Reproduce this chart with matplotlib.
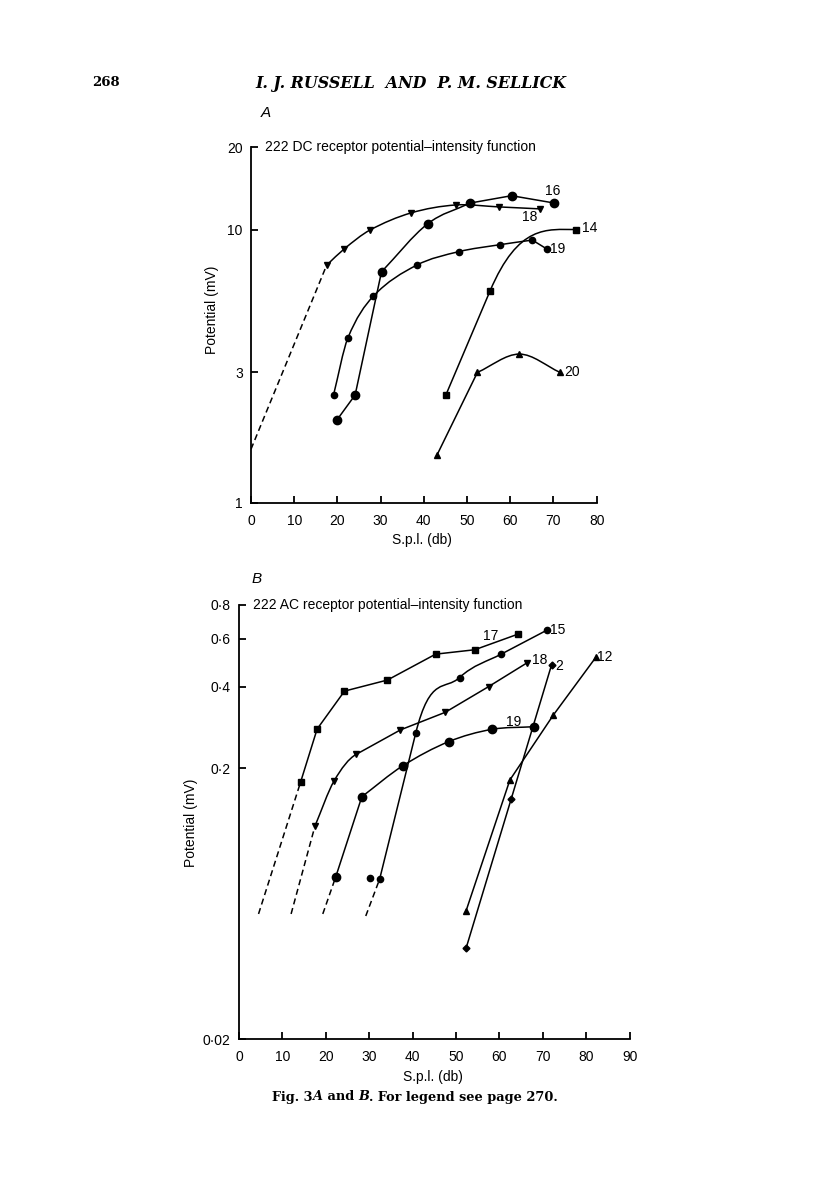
import numpy as np
import matplotlib
matplotlib.use("Agg")
import matplotlib.pyplot as plt
from matplotlib.path import Path
from matplotlib.patches import PathPatch
from matplotlib.ticker import NullLocator

plt.rcParams['font.family'] = ['Liberation Sans', 'DejaVu Sans']

# ===== data: panel A (DC) =====
a_x18 = [17.5, 21.6, 27.5, 37.0, 47.4, 57.4, 66.9]
a_y18 = [7.4, 8.5, 9.95, 11.5, 12.3, 12.1, 11.9]
a_dash18_x = [0.0, 17.5]
a_dash18_y = [1.57, 7.4]
a_x16 = [19.8, 24.1, 30.2, 40.9, 50.7, 60.3, 70.2]
a_y16 = [2.0, 2.48, 7.0, 10.5, 12.5, 13.3, 12.5]
a_x19 = [19.1, 22.4, 28.3, 38.3, 48.1, 57.6, 65.1, 68.4]
a_y19 = [2.48, 4.0, 5.7, 7.4, 8.3, 8.8, 9.15, 8.5]
a_x14 = [45.1, 55.3, 75.1]
a_y14 = [2.48, 5.95, 10.0]
a_x20 = [43.0, 52.4, 62.1, 71.5]
a_y20 = [1.49, 3.0, 3.5, 3.0]

a_xticks = [0, 10, 20, 30, 40, 50, 60, 70, 80]
a_yticks = [1, 3, 10, 20]
a_ylabels = ['1', '3', '10', '20']

# ===== data: panel B (AC) =====
b_x17 = [14.2, 18.0, 24.3, 34.2, 45.3, 54.3, 64.2]
b_y17 = [0.178, 0.279, 0.385, 0.423, 0.527, 0.547, 0.624]
b_x18 = [17.5, 21.9, 27.0, 37.2, 47.5, 57.5, 66.4]
b_y18 = [0.1224, 0.1795, 0.225, 0.277, 0.3215, 0.400, 0.490]
b_x19 = [22.3, 28.3, 37.7, 48.3, 58.3, 67.9]
b_y19 = [0.0796, 0.157, 0.204, 0.2506, 0.2783, 0.2845]
b_x15 = [32.4, 40.7, 50.8, 60.4, 71.0]
b_y15 = [0.078, 0.269, 0.432, 0.527, 0.647]
b_x15_extra = [30.2]
b_y15_extra = [0.079]
b_x2 = [52.3, 62.7, 72.0]
b_y2 = [0.0433, 0.154, 0.481]
b_x12 = [52.3, 62.4, 72.4, 82.2]
b_y12 = [0.0595, 0.181, 0.314, 0.513]
# dashed extrapolations (start x, start y) -> first point of the series
b_dash_x = [[4.5, 14.2], [12.0, 17.5], [19.3, 22.3], [29.2, 32.4]]
b_dash_y = [[0.058, 0.178], [0.058, 0.1224], [0.058, 0.0796], [0.057, 0.078]]

b_xticks = [0, 10, 20, 30, 40, 50, 60, 70, 80, 90]
b_yticks = [0.02, 0.2, 0.4, 0.6, 0.8]
b_ylabels = ['0·02', '0·2', '0·4', '0·6', '0·8']

LW = 1.1
FS = 10


def chord(xs, ys, i, j):
    return (np.log10(ys[j]) - np.log10(ys[i])) / (xs[j] - xs[i])


def curve(ax, xs, ys, start=None, end=None, ls='-'):
    # smooth curve through points, hermite in (x, log y), drawn as bezier
    X = np.asarray(xs, float)
    Y = np.log10(np.asarray(ys, float))
    n = len(X)
    s = np.zeros(n)
    for i in range(n):
        if i == 0:
            s[i] = (Y[1] - Y[0]) / (X[1] - X[0])
        elif i == n - 1:
            s[i] = (Y[i] - Y[i - 1]) / (X[i] - X[i - 1])
        else:
            s[i] = (Y[i + 1] - Y[i - 1]) / (X[i + 1] - X[i - 1])
    if start is not None:
        s[0] = start
    if end is not None:
        s[-1] = end
    verts = [(X[0], 10 ** Y[0])]
    codes = [Path.MOVETO]
    for i in range(n - 1):
        h = X[i + 1] - X[i]
        verts += [(X[i] + h / 3, 10 ** (Y[i] + s[i] * h / 3)),
                  (X[i + 1] - h / 3, 10 ** (Y[i + 1] - s[i + 1] * h / 3)),
                  (X[i + 1], 10 ** Y[i + 1])]
        codes += [Path.CURVE4] * 3
    ax.add_patch(PathPatch(Path(verts, codes), fill=False, lw=LW,
                           ls=ls, edgecolor='black', capstyle='round'))


def line(ax, xs, ys, ls='-'):
    ax.plot(xs, ys, color='black', lw=LW, ls=ls,
            dashes=(4, 2.5) if ls == '--' else (None, None))


def marks(ax, xs, ys, m, ms):
    ax.plot(xs, ys, ls='none', marker=m, ms=ms, color='black', zorder=5)


def style(ax, xlim, ylim, xticks, yticks, ylabels):
    ax.set_yscale('log')
    ax.set_xlim(*xlim)
    ax.set_ylim(*ylim)
    for sp in ['top', 'right']:
        ax.spines[sp].set_visible(False)
    for sp in ['left', 'bottom']:
        ax.spines[sp].set_linewidth(1.3)
    ax.set_xticks(xticks)
    ax.set_yticks(yticks)
    ax.set_yticklabels(ylabels)
    ax.yaxis.set_minor_locator(NullLocator())
    ax.tick_params(direction='in', length=5, width=1.3, labelsize=FS)
    ax.tick_params(axis='x', pad=8)
    ax.tick_params(axis='y', pad=6)
    ax.patch.set_alpha(0)


fig = plt.figure(figsize=(8.16, 11.91), dpi=100)
W, H = 816, 1191


def fx(px):
    return px / W


def fy(py):
    return 1 - py / H


# ===== panel A =====
axA = fig.add_axes([fx(251), fy(502.7), fx(596.7 - 251), (502.7 - 147.3) / H])
style(axA, (0, 80), (1, 20), a_xticks, a_yticks, a_ylabels)

line(axA, a_dash18_x, a_dash18_y, ls='--')
curve(axA, a_x18, a_y18)
marks(axA, a_x18, a_y18, 'v', 5)

line(axA, a_x16[:3], a_y16[:3])
curve(axA, a_x16[2:5], a_y16[2:5])
line(axA, a_x16[4:], a_y16[4:])
marks(axA, a_x16, a_y16, 'o', 6)

curve(axA, a_x19[:7], a_y19[:7])
line(axA, a_x19[6:], a_y19[6:])
marks(axA, a_x19, a_y19, 'o', 4.5)

line(axA, a_x14[:2], a_y14[:2])
curve(axA, a_x14[1:], a_y14[1:], start=chord(a_x14, a_y14, 0, 1), end=0.0)
marks(axA, a_x14, a_y14, 's', 4.5)

line(axA, a_x20[:2], a_y20[:2])
curve(axA, a_x20[1:], a_y20[1:])
marks(axA, a_x20, a_y20, '^', 5)

axA.text(3.3, 20, '222 DC receptor potential–intensity function',
         fontsize=FS, va='center', ha='left')
axA.text(69.8, 13.8, '16', fontsize=FS, ha='center', va='center')
axA.text(64.6, 11.1, '18', fontsize=FS, ha='center', va='center')
axA.text(76.5, 10.1, '14', fontsize=FS, ha='left', va='center')
axA.text(69.2, 8.5, '19', fontsize=FS, ha='left', va='center')
axA.text(72.5, 3.0, '20', fontsize=FS, ha='left', va='center')

fig.text(fx(212), fy(310), 'Potential (mV)', rotation=90, fontsize=FS,
         ha='center', va='center')
fig.text(fx(422), fy(540), 'S.p.l. (db)', fontsize=FS, ha='center', va='center')
fig.text(fx(266), fy(113), 'A', fontsize=11, style='italic', ha='center', va='center')

# ===== panel B =====
axB = fig.add_axes([fx(239), fy(1039.3), fx(629.7 - 239), (1039.3 - 605) / H])
style(axB, (0, 90), (0.02, 0.8), b_xticks, b_yticks, b_ylabels)

for dx, dy in zip(b_dash_x, b_dash_y):
    line(axB, dx, dy, ls='--')

line(axB, b_x17, b_y17)
marks(axB, b_x17, b_y17, 's', 4.5)

curve(axB, b_x18[:3], b_y18[:3], end=chord(b_x18, b_y18, 2, 3))
line(axB, b_x18[2:], b_y18[2:])
marks(axB, b_x18, b_y18, 'v', 5)

line(axB, b_x19[:2], b_y19[:2])
curve(axB, b_x19[1:], b_y19[1:])
marks(axB, b_x19, b_y19, 'o', 6)

line(axB, b_x15[:2], b_y15[:2])
curve(axB, b_x15[1:4], b_y15[1:4], start=chord(b_x15, b_y15, 0, 1),
      end=chord(b_x15, b_y15, 3, 4))
line(axB, b_x15[3:], b_y15[3:])
marks(axB, b_x15, b_y15, 'o', 4.5)
marks(axB, b_x15_extra, b_y15_extra, 'o', 4.5)

line(axB, b_x2, b_y2)
marks(axB, b_x2, b_y2, 'D', 3.5)

line(axB, b_x12, b_y12)
marks(axB, b_x12, b_y12, '^', 5)

axB.text(3.3, 0.8, '222 AC receptor potential–intensity function',
         fontsize=FS, va='center', ha='left')
axB.text(57.9, 0.615, '17', fontsize=FS, ha='center', va='center')
axB.text(67.6, 0.50, '18', fontsize=FS, ha='left', va='center')
axB.text(72.9, 0.475, '2', fontsize=FS, ha='left', va='center')
axB.text(82.5, 0.513, '12', fontsize=FS, ha='left', va='center')
axB.text(71.6, 0.647, '15', fontsize=FS, ha='left', va='center')
axB.text(63.3, 0.297, '19', fontsize=FS, ha='center', va='center')

fig.text(fx(191), fy(823), 'Potential (mV)', rotation=90, fontsize=FS,
         ha='center', va='center')
fig.text(fx(433), fy(1077), 'S.p.l. (db)', fontsize=FS, ha='center', va='center')
fig.text(fx(257), fy(579), 'B', fontsize=11, style='italic', ha='center', va='center')

# ===== page text =====
serif = ['DejaVu Serif']
fig.text(fx(106), fy(83), '268', fontsize=9.5, fontweight='bold',
         family=serif, ha='center', va='center')
fig.text(fx(255), fy(83), 'I. J. RUSSELL  AND  P. M. SELLICK', fontsize=11.4,
         fontweight='bold', style='italic', family=serif, ha='left', va='center')

# caption with italic letters, pieces chained left to right
renderer = fig.canvas.get_renderer()
pieces = [('Fig. 3', 'normal'), ('A', 'italic'), (' and ', 'normal'),
          ('B', 'italic'), ('. For legend see page 270.', 'normal')]
xpos = 272
for txt, st in pieces:
    t = fig.text(fx(xpos), fy(1097), txt, fontsize=9.3, fontweight='bold',
                 style=st, family=serif, ha='left', va='center')
    bb = t.get_window_extent(renderer)
    xpos += bb.width

fig.savefig('out.png', dpi=100, facecolor='white')
